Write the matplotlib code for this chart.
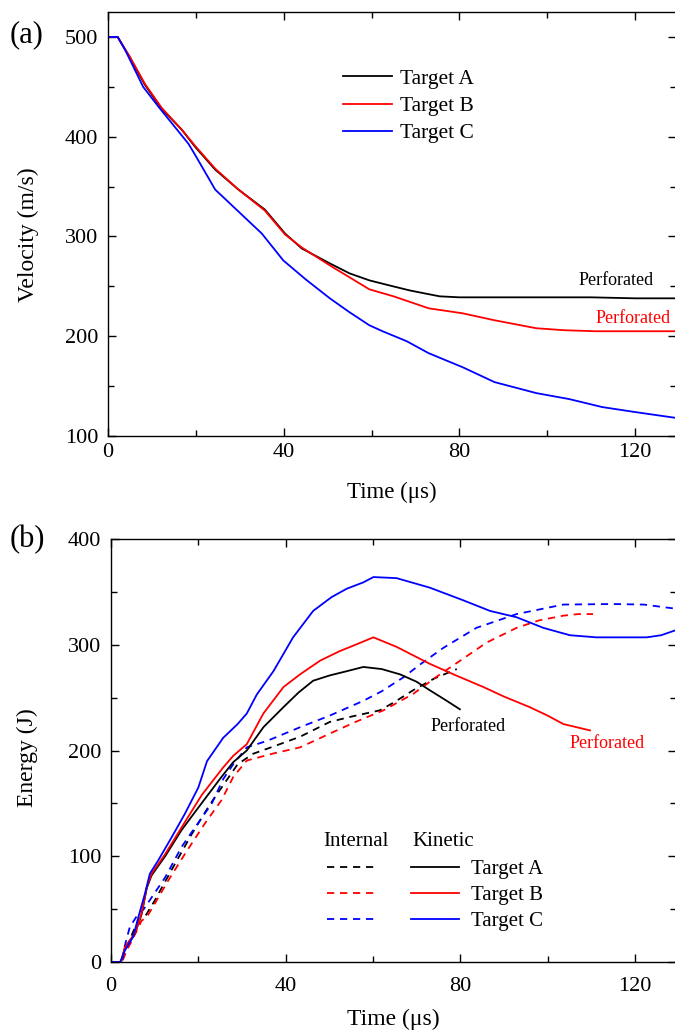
import numpy as np
import matplotlib
matplotlib.use('Agg')
import matplotlib.pyplot as plt
from matplotlib.ticker import MultipleLocator

plt.rcParams['font.family'] = ['Liberation Serif', 'DejaVu Serif']
plt.rcParams['mathtext.fontset'] = 'stix'

# ---- (a) velocity data ----
t_vA = [0, 2.2, 5, 8.4, 12.2, 16.8, 19.8, 24.4, 29.7, 35.7, 40.3, 44.1, 50.5, 55, 59.5, 64,
        68.6, 72, 75.5, 80, 90, 100, 110, 120, 129.5]
v_A = [500, 500, 479, 452, 428, 407, 390, 367, 347, 327, 303, 288, 273, 263, 256, 251,
       246, 243, 240, 239, 239, 239, 239, 238, 238]

t_vB = [0, 2.2, 5, 8.4, 12.2, 16.8, 19.8, 24.4, 29.7, 35.7, 40.3, 44.1, 50.5, 55, 59.5, 65,
        73, 80.7, 88, 97.5, 104, 111, 120, 129.5]
v_B = [500, 500, 480, 453, 429, 407, 391, 368, 347, 326, 302, 289, 271, 259, 247, 240,
       228, 223, 216, 208, 206, 205, 205, 205]

t_vC = [0, 2.2, 3.9, 8, 11.5, 18.3, 19.8, 24.4, 29.7, 35, 39.9, 45, 50.5, 55, 59.5, 62.5,
        68, 73, 80.7, 88, 97.5, 105, 112.5, 120, 129.5]
v_C = [500, 500, 487, 450, 430, 393, 382, 347, 325, 303, 276, 257, 238, 224, 211, 205,
       195, 183, 169, 154, 143, 137, 129, 124, 118]

# ---- (b) energy data: kinetic (solid) ----
t_kA = [0, 2.3, 3.2, 5.5, 7, 8.2, 9.3, 12.4, 16.2, 20, 25.3, 28, 31.1, 34.9, 39.5, 43, 46.3,
        50.1, 54, 57.8, 62, 66.2, 70, 73, 76.5, 79.9]
k_A = [0, 0, 14, 27, 45, 70, 82, 100, 125, 146, 175, 189, 200, 222, 241, 255, 266,
       271, 275, 279, 277, 272, 265, 257, 248, 239]

t_kB = [0, 2.3, 3.2, 5.5, 7, 8.2, 9.3, 12.4, 16.2, 20.8, 25.7, 28, 31.1, 34.9, 39.5, 43.3,
        47.9, 52.4, 56, 60.1, 65.4, 73, 79, 85.3, 90, 95.9, 100, 103.6, 109.7]
k_B = [0, 0, 14, 27, 46, 71, 83.5, 102, 127.5, 158, 184, 195, 206, 235, 260, 272,
       285, 294, 300, 307, 298, 282, 271, 260, 251, 241, 233, 225, 219]

t_kC = [0, 2.1, 3.2, 5.1, 6.3, 7.8, 8.9, 10.8, 13.9, 16.9, 20, 22, 25.7, 29, 31.1, 33.4, 37.2,
        41.7, 46.3, 50.5, 54, 57.8, 60.1, 65.4, 73, 80.7, 86.8, 92.9, 99, 105.1, 111.2, 117,
        122.7, 126, 129.5]
k_C = [0, 0, 11, 24, 43, 65, 83.5, 96, 118, 140, 165, 190, 212, 225, 235, 253, 275,
       307, 332, 345, 353, 359, 364, 363, 354, 342, 332, 326, 316, 309, 307, 307,
       307, 309, 314]

# ---- (b) energy data: internal (dashed) ----
t_iA = [0, 2.5, 3.5, 5, 6.3, 7.8, 10, 14, 18.5, 22.5, 26.5, 29, 32.6, 38, 43.3, 50.1, 55,
        61.6, 65, 69.2, 74, 79.2]
i_A = [0, 0, 12, 28, 40, 43, 58, 88, 121, 148, 172, 187, 197, 205, 213, 227, 232,
       238, 246, 257, 268, 277]

t_iB = [0, 2.5, 3.5, 5, 7, 8.2, 10, 13.1, 16.9, 21.5, 25.3, 28, 31.1, 37, 43.3, 47, 50.1, 56,
        62.4, 69.2, 75, 80.7, 86, 92.9, 98, 103.6, 107, 110.4]
i_B = [0, 0, 10, 22, 39, 42.5, 55, 77, 102, 131, 153, 175, 190.5, 197, 203, 210, 216, 227,
       238, 253.5, 271, 287, 302, 316, 323, 327.5, 329, 329]

t_iC = [0, 2.5, 3.2, 4.3, 6, 7.5, 9.3, 12.4, 16.2, 19.2, 23.1, 25.7, 28, 31.1, 35.7, 43.3, 50.1,
        57.8, 62, 66.9, 71, 76.1, 83.7, 92.9, 103.6, 115, 122, 129.5]
i_C = [0, 0, 16, 33, 44, 50, 61, 80, 109, 127, 150, 173, 187, 203, 209, 222, 233,
       247, 256, 269, 282, 297, 316, 329, 338, 338.5, 338, 334]

targets = ['Target A', 'Target B', 'Target C']
colors = ['black', '#ff0000', '#0000ff']

LW = 1.3
DASH = (4.0, 3.2)


def style_axes(ax, ymaj, ymin, xpad, ypad):
    ax.xaxis.set_major_locator(MultipleLocator(40))
    ax.xaxis.set_minor_locator(MultipleLocator(20))
    ax.yaxis.set_major_locator(MultipleLocator(ymaj))
    ax.yaxis.set_minor_locator(MultipleLocator(ymin))
    ax.tick_params(which='both', direction='in', top=True, right=True, width=1.0)
    ax.tick_params(which='major', length=6)
    ax.tick_params(which='minor', length=4)
    ax.tick_params(axis='x', labelsize=16, pad=xpad)
    ax.tick_params(axis='y', labelsize=16, pad=ypad)
    for s in ax.spines.values():
        s.set_linewidth(1.0)


fig = plt.figure(figsize=(6.75, 10.33), dpi=100)
W, H = 675.0, 1033.0

# ---------------- (a) ----------------
ax1 = fig.add_axes([108 / W, 1 - 436 / H, 568 / W, 424 / H])
ax1.plot(t_vA, v_A, color=colors[0], lw=LW, label=targets[0])
ax1.plot(t_vB, v_B, color=colors[1], lw=LW, label=targets[1])
ax1.plot(t_vC, v_C, color=colors[2], lw=LW, label=targets[2])
ax1.set_xlim(0, 129.3)
ax1.set_ylim(100, 525)
style_axes(ax1, 100, 50, 5, 7)
ax1.set_xlabel('Time (\u03bcs)', fontsize=16.5)
ax1.set_ylabel('Velocity (m/s)', fontsize=17)
ax1.xaxis.label.set_va('center')
ax1.yaxis.label.set_va('center')
ax1.xaxis.set_label_coords(0.5, -0.134)
ax1.yaxis.set_label_coords(-0.141, 0.474)
ax1.text(115.7, 256, 'Perforated', color=colors[0], fontsize=13, ha='center', va='center')
ax1.text(119.5, 218, 'Perforated', color=colors[1], fontsize=13, ha='center', va='center')
ax1.legend(loc='upper left', bbox_to_anchor=(0.413, 0.866), frameon=False, fontsize=15.5,
           borderpad=0, borderaxespad=0, handlelength=2.3, handletextpad=0.35,
           labelspacing=0.33)
fig.text(27 / W, 1 - 35 / H, '(a)', fontsize=22, ha='center', va='center')

# ---------------- (b) ----------------
ax2 = fig.add_axes([111 / W, 1 - 962 / H, 565 / W, 423 / H])
int_t = [t_iA, t_iB, t_iC]
int_e = [i_A, i_B, i_C]
kin_t = [t_kA, t_kB, t_kC]
kin_e = [k_A, k_B, k_C]
h_int, h_kin = [], []
for k in range(3):
    l, = ax2.plot(int_t[k], int_e[k], color=colors[k], lw=LW, linestyle=(0, DASH))
    h_int.append(l)
for k in range(3):
    l, = ax2.plot(kin_t[k], kin_e[k], color=colors[k], lw=LW)
    h_kin.append(l)
ax2.set_xlim(0, 129.4)
ax2.set_ylim(0, 400)
style_axes(ax2, 100, 50, 11, 7)
ax2.set_xlabel('Time (\u03bcs)', fontsize=17)
ax2.set_ylabel('Energy (J)', fontsize=17)
ax2.xaxis.label.set_va('center')
ax2.yaxis.label.set_va('center')
ax2.xaxis.set_label_coords(0.5, -0.136)
ax2.yaxis.set_label_coords(-0.148, 0.482)
ax2.text(81.7, 223, 'Perforated', color=colors[0], fontsize=13, ha='center', va='center')
ax2.text(113.6, 207, 'Perforated', color=colors[1], fontsize=13, ha='center', va='center')
ax2.legend(h_int + h_kin, ['', '', ''] + targets, ncol=2, loc='upper left',
           bbox_to_anchor=(0.382, 0.242), frameon=False, fontsize=15,
           borderpad=0, borderaxespad=0, handlelength=2.3, handletextpad=0.55,
           columnspacing=1.2, labelspacing=0.3)
ax2.text(0.434, 0.286, 'Internal', transform=ax2.transAxes, fontsize=15,
         ha='center', va='center')
ax2.text(0.588, 0.286, 'Kinetic', transform=ax2.transAxes, fontsize=15,
         ha='center', va='center')
fig.text(27 / W, 1 - 540 / H, '(b)', fontsize=22, ha='center', va='center')

fig.savefig('out.png', dpi=100)
